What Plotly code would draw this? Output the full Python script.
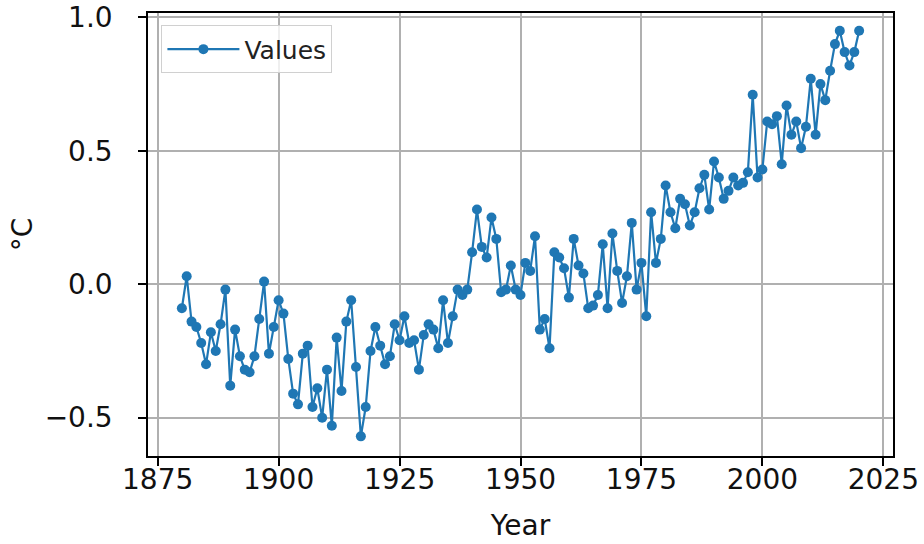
import plotly.graph_objects as go

# Annual temperature anomaly series, 1880-2020 (°C)
years = list(range(1880, 2021))
values = [
    -0.09, 0.03, -0.14, -0.16, -0.22, -0.30, -0.18, -0.25, -0.15, -0.02,  # 1880s
    -0.38, -0.17, -0.27, -0.32, -0.33, -0.27, -0.13, 0.01, -0.26, -0.16,  # 1890s
    -0.06, -0.11, -0.28, -0.41, -0.45, -0.26, -0.23, -0.46, -0.39, -0.50,  # 1900s
    -0.32, -0.53, -0.20, -0.40, -0.14, -0.06, -0.31, -0.57, -0.46, -0.25,  # 1910s
    -0.16, -0.23, -0.30, -0.27, -0.15, -0.21, -0.12, -0.22, -0.21, -0.32,  # 1920s
    -0.19, -0.15, -0.17, -0.24, -0.06, -0.22, -0.12, -0.02, -0.04, -0.02,  # 1930s
    0.12, 0.28, 0.14, 0.10, 0.25, 0.17, -0.03, -0.02, 0.07, -0.02,        # 1940s
    -0.04, 0.08, 0.05, 0.18, -0.17, -0.13, -0.24, 0.12, 0.10, 0.06,       # 1950s
    -0.05, 0.17, 0.07, 0.04, -0.09, -0.08, -0.04, 0.15, -0.09, 0.19,      # 1960s
    0.05, -0.07, 0.03, 0.23, -0.02, 0.08, -0.12, 0.27, 0.08, 0.17,        # 1970s
    0.37, 0.27, 0.21, 0.32, 0.30, 0.22, 0.27, 0.36, 0.41, 0.28,           # 1980s
    0.46, 0.40, 0.32, 0.35, 0.40, 0.37, 0.38, 0.42, 0.71, 0.40,           # 1990s
    0.43, 0.61, 0.60, 0.63, 0.45, 0.67, 0.56, 0.61, 0.51, 0.59,           # 2000s
    0.77, 0.56, 0.75, 0.69, 0.80, 0.90, 0.95, 0.87, 0.82, 0.87,           # 2010s
    0.95,                                                                 # 2020
]

x_ticks = [1875, 1900, 1925, 1950, 1975, 2000, 2025]
y_ticks = [-0.5, 0.0, 0.5, 1.0]
y_tick_text = ["\u22120.5", "0.0", "0.5", "1.0"]

line_color = "#1f77b4"
font_family = "DejaVu Sans"

fig = go.Figure()
fig.add_trace(
    go.Scatter(
        x=years,
        y=values,
        mode="lines+markers",
        name="Values",
        line=dict(color=line_color, width=2.2),
        marker=dict(color=line_color, size=10),
    )
)

axis_common = dict(
    automargin=False,
    showgrid=True,
    gridcolor="#b0b0b0",
    gridwidth=1.5,
    showline=True,
    linecolor="black",
    linewidth=1.5,
    mirror=True,
    ticks="outside",
    ticklen=8,
    tickwidth=1.5,
    tickcolor="black",
    zeroline=False,
    tickfont=dict(family=font_family, size=28, color="#111111"),
)

fig.update_layout(
    width=924,
    height=544,
    margin=dict(l=148, r=31, t=13, b=88),
    paper_bgcolor="white",
    plot_bgcolor="white",
    font=dict(family=font_family, color="#111111"),
    showlegend=True,
    legend=dict(
        x=0.018,
        y=0.972,
        xanchor="left",
        yanchor="top",
        bgcolor="rgba(255,255,255,0.8)",
        bordercolor="#d0d0d0",
        borderwidth=1,
        font=dict(family=font_family, size=25, color="#222222"),
        itemwidth=72,
        entrywidth=100,
        entrywidthmode="pixels",
    ),
    xaxis=dict(
        range=[1873, 2027],
        tickvals=x_ticks,
        ticktext=[str(t) for t in x_ticks],
        ticklabelstandoff=-10,
        title=dict(text="Year", font=dict(family=font_family, size=28), standoff=20),
        **axis_common,
    ),
    yaxis=dict(
        range=[-0.6436, 1.0165],
        tickvals=y_ticks,
        ticktext=y_tick_text,
        ticklabelstandoff=20,
        title=dict(text="°C", font=dict(family=font_family, size=28), standoff=4),
        **axis_common,
    ),
)

fig.write_html("out.html")
